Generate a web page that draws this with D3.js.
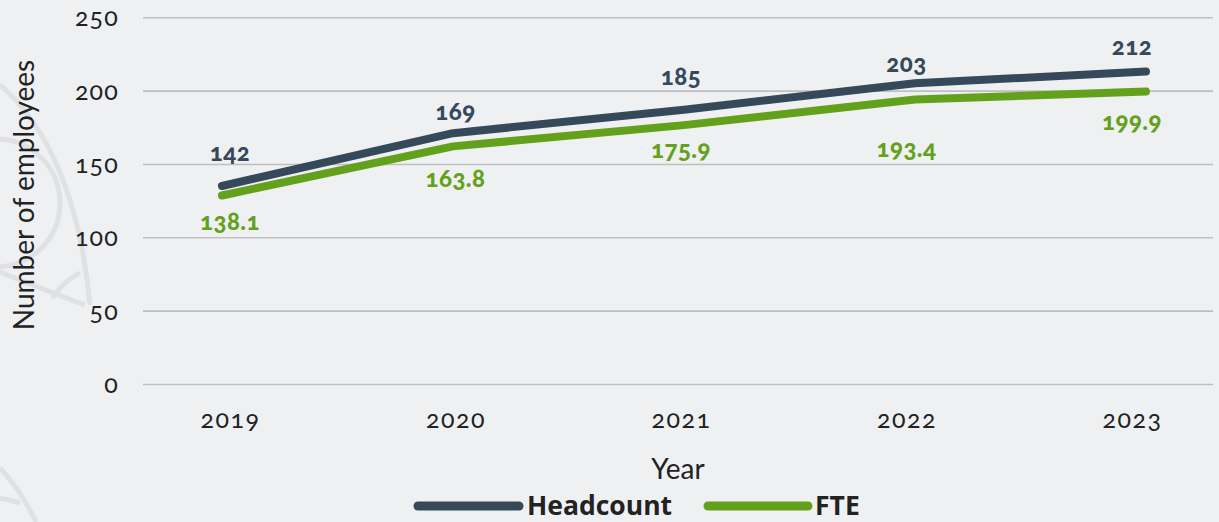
<!DOCTYPE html>
<html>
<head>
<meta charset="utf-8">
<script src="https://cdn.jsdelivr.net/npm/d3@7"></script>
<style>
  html, body { margin: 0; padding: 0; background: #eff0f2; }
  svg { display: block; }
  .num { font-variant-numeric: oldstyle-nums; font-feature-settings: "onum" 1; }
</style>
</head>
<body>
<svg id="chart" width="1219" height="522"></svg>
<script>
// ---- data ----
const years = ["2019", "2020", "2021", "2022", "2023"];
const headcount = [135, 171, 187, 205, 213];           // plotted positions
const fte = [128.5, 162, 176.5, 194, 199.4];
const headcountLabels = ["142", "169", "185", "203", "212"];
const fteLabels = ["138.1", "163.8", "175.9", "193.4", "199.9"];
const yTicks = [0, 50, 100, 150, 200, 250];
const seriesNames = ["Headcount", "FTE"];

// ---- layout / style ----
const colors = { Headcount: "#35495b", FTE: "#63a11c" };
const hcLabelDy = [-25, -13, -25, -11, -17];
const fteLabelDy = [34, 41, 33, 58, 38];

const svg = d3.select("#chart");

// decorative faint background shapes
const deco = svg.append("g").attr("fill", "none").attr("stroke", "#e0e1e4").attr("stroke-width", 5);
deco.append("path").attr("d", "M0,85 Q75,150 90,305");
deco.append("circle").attr("cx", -4).attr("cy", 203).attr("r", 64);
deco.append("path").attr("d", "M0,272 Q50,292 85,305");
deco.append("path").attr("d", "M52,298 Q65,280 80,273");
deco.append("path").attr("d", "M0,468 Q22,492 36,522");
deco.append("path").attr("d", "M0,498 Q10,500 20,503");

const y = d3.scaleLinear().domain([0, 250]).range([384, 17.3]);
const xLine = d3.scalePoint().domain(years).range([222, 1146]);
const xLab = d3.scalePoint().domain(years).range([230, 1132]);
const gridX0 = 143, gridX1 = 1213;

// grid lines + y tick labels via axis
const yAxis = d3.axisLeft(y).tickValues(yTicks).tickSize(-(gridX1 - gridX0)).tickPadding(24);
const gy = svg.append("g").attr("transform", `translate(${gridX0},0)`).call(yAxis);
gy.select(".domain").remove();
gy.selectAll(".tick line").attr("stroke", "#bfbfc1").attr("stroke-width", 1.6);
gy.selectAll(".tick text")
  .attr("class", "num")
  .attr("font-family", "Lato, 'Open Sans', sans-serif")
  .attr("font-size", 25)
  .attr("letter-spacing", 1.2)
  .attr("fill", "#222")
  .attr("dy", "0.34em");

// x axis labels
const xAxis = d3.axisBottom(xLab).tickSize(0).tickPadding(0);
const gx = svg.append("g").attr("transform", "translate(0,410)").call(xAxis);
gx.select(".domain").remove();
gx.selectAll(".tick text")
  .attr("class", "num")
  .attr("font-family", "Lato, 'Open Sans', sans-serif")
  .attr("font-size", 25)
  .attr("letter-spacing", 1.5)
  .attr("fill", "#222")
  .attr("dy", "0.71em");

// axis titles
svg.append("text")
  .attr("transform", "translate(34,195) rotate(-90)")
  .attr("text-anchor", "middle")
  .attr("font-family", "Lato, sans-serif")
  .attr("font-size", 28)
  .attr("fill", "#222")
  .text("Number of employees");
svg.append("text")
  .attr("x", 678).attr("y", 479)
  .attr("text-anchor", "middle")
  .attr("font-family", "Lato, sans-serif")
  .attr("font-size", 28)
  .attr("fill", "#222")
  .text("Year");

// lines
const line = d3.line().x((d, i) => xLine(years[i])).y(d => y(d));
const series = [
  { name: "Headcount", values: headcount, labels: headcountLabels, dy: hcLabelDy },
  { name: "FTE", values: fte, labels: fteLabels, dy: fteLabelDy }
];
svg.selectAll("path.series").data(series).join("path")
  .attr("class", "series")
  .attr("d", d => line(d.values))
  .attr("fill", "none")
  .attr("stroke", d => colors[d.name])
  .attr("stroke-width", 8)
  .attr("stroke-linecap", "round")
  .attr("stroke-linejoin", "round");

// data labels
series.forEach(s => {
  svg.append("g").selectAll("text").data(s.labels).join("text")
    .attr("class", "num")
    .attr("x", (d, i) => xLab(years[i]))
    .attr("y", (d, i) => y(s.values[i]) + s.dy[i])
    .attr("text-anchor", "middle")
    .attr("font-family", "Lato, sans-serif")
    .attr("font-weight", 900)
    .attr("font-size", 24)
    .attr("letter-spacing", 0.5)
    .attr("fill", colors[s.name])
    .text(d => d);
});

// legend
const legend = [
  { name: "Headcount", x1: 418, x2: 519, tx: 527 },
  { name: "FTE", x1: 708, x2: 808, tx: 815 }
];
const lg = svg.append("g");
lg.selectAll("line").data(legend).join("line")
  .attr("x1", d => d.x1).attr("x2", d => d.x2)
  .attr("y1", 506).attr("y2", 506)
  .attr("stroke", d => colors[d.name])
  .attr("stroke-width", 9)
  .attr("stroke-linecap", "round");
lg.selectAll("text").data(legend).join("text")
  .attr("x", d => d.tx).attr("y", 515)
  .attr("font-family", "'Open Sans', sans-serif")
  .attr("font-weight", 700)
  .attr("font-size", 26.5)
  .attr("fill", "#222")
  .text(d => d.name);
</script>
</body>
</html>
